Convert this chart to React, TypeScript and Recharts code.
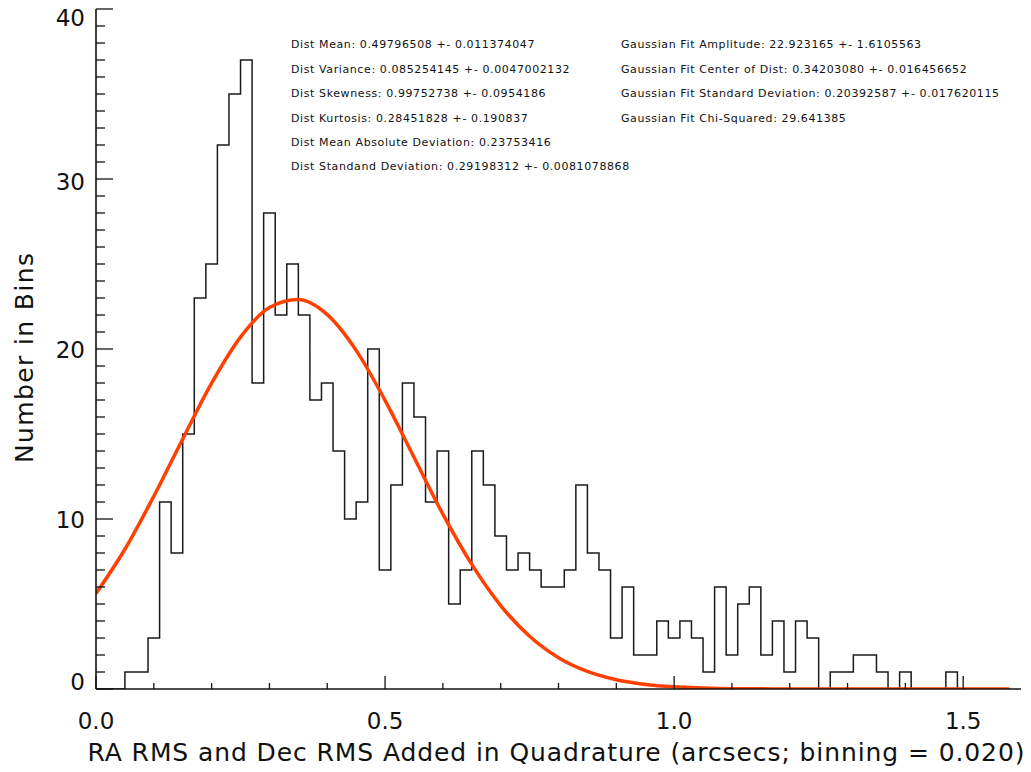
import React from 'react';
import { ComposedChart, Line, XAxis, YAxis } from 'recharts';

// histogram: counts per 0.02 bin, bin centres start at 0.00
const binWidth = 0.02;
const histCounts = [
  0, 0, 0, 1, 1, 3, 11, 8, 15, 23,
  25, 32, 35, 37, 18, 28, 22, 25, 22, 17,
  18, 14, 10, 11, 20, 7, 12, 18, 16, 11,
  14, 5, 7, 14, 12, 9, 7, 8, 7, 6,
  6, 7, 12, 8, 7, 3, 6, 2, 2, 4,
  3, 4, 3, 1, 6, 2, 5, 6, 2, 4,
  1, 4, 3, 0, 1, 1, 2, 2, 1, 0,
  1, 0, 0, 0, 1, 0, 0, 0, 0, 0,
];

// gaussian fit curve
const fitX = [0, 0.05, 0.1, 0.15, 0.2, 0.25, 0.3, 0.35, 0.4, 0.45, 0.5, 0.55, 0.6, 0.65, 0.7, 0.75, 0.8, 0.85, 0.9, 0.95, 1.0, 1.05, 1.1, 1.15, 1.2, 1.3, 1.4, 1.5, 1.58];
const fitY = [5.62, 8.22, 11.34, 14.71, 17.99, 20.7, 22.44, 22.91, 22.02, 19.92, 16.98, 13.63, 10.29, 7.33, 4.91, 3.1, 1.84, 1.03, 0.54, 0.27, 0.13, 0.06, 0.02, 0.01, 0, 0, 0, 0, 0];

const xTicks = [0, 0.1, 0.2, 0.3, 0.4, 0.5, 0.6, 0.7, 0.8, 0.9, 1.0, 1.1, 1.2, 1.3, 1.4, 1.5];
const xMajor = [0, 0.5, 1.0, 1.5];
const yTicks = Array.from({ length: 41 }, (_, i) => i);
const yMajor = [0, 10, 20, 30, 40];
// label baselines sit a little differently per tick in the original
const yLabelShift: Record<number, number> = { 0: 1, 10: 9, 20: 9, 30: 11, 40: 17 };

const statsLeft = [
  'Dist Mean: 0.49796508 +- 0.011374047',
  'Dist Variance: 0.085254145 +- 0.0047002132',
  'Dist Skewness: 0.99752738 +- 0.0954186',
  'Dist Kurtosis: 0.28451828 +- 0.190837',
  'Dist Mean Absolute Deviation: 0.23753416',
  'Dist Standand Deviation: 0.29198312 +- 0.0081078868',
];
const statsRight = [
  'Gaussian Fit Amplitude: 22.923165 +- 1.6105563',
  'Gaussian Fit Center of Dist: 0.34203080 +- 0.016456652',
  'Gaussian Fit Standard Deviation: 0.20392587 +- 0.017620115',
  'Gaussian Fit Chi-Squared: 29.641385',
];
const statRows = [48, 73, 97, 122, 146, 170];

const histData = histCounts.map((count, i) => ({ x: +(i * binWidth).toFixed(2), count }));
const fitData = fitX.map((x, i) => ({ x, fit: fitY[i] }));

const FONT = '"DejaVu Sans", sans-serif';
const INK = '#111';

function BottomTick({ x, y, payload }: any) {
  const major = xMajor.includes(payload.value);
  return (
    <g>
      <line x1={x} x2={x} y1={y} y2={y - (major ? 13 : 6)} stroke={INK} strokeWidth={1.3} />
      {major && (
        <text x={x} y={y + 40} textAnchor="middle" fontFamily={FONT} fontSize={23} fill={INK}>
          {payload.value.toFixed(1)}
        </text>
      )}
    </g>
  );
}

function TopTick({ x, y, payload }: any) {
  const major = xMajor.includes(payload.value);
  return <line x1={x} x2={x} y1={y} y2={y + (major ? 13 : 6)} stroke={INK} strokeWidth={1.3} />;
}

function LeftTick({ x, y, payload }: any) {
  const major = yMajor.includes(payload.value);
  return (
    <g>
      <line x1={x} x2={x + (major ? 17 : 9)} y1={y} y2={y} stroke={INK} strokeWidth={1.3} />
      {major && (
        <text x={x - 11} y={y + (yLabelShift[payload.value] ?? 9)} textAnchor="end" fontFamily={FONT} fontSize={23} fill={INK}>
          {payload.value}
        </text>
      )}
    </g>
  );
}

function RightTick({ x, y, payload }: any) {
  const major = yMajor.includes(payload.value);
  return <line x1={x} x2={x - (major ? 17 : 9)} y1={y} y2={y} stroke={INK} strokeWidth={1.3} />;
}

const frame = { stroke: INK, strokeWidth: 1.6 };

export default function App() {
  return (
    <div style={{ position: 'absolute', left: 0, top: 0, width: 1031, height: 772, background: '#fff' }}>
      <ComposedChart width={1031} height={772} margin={{ top: 9, right: 10, bottom: 0, left: 0 }}>
        <XAxis xAxisId="b" dataKey="x" type="number" domain={[0, 1.6]} allowDataOverflow ticks={xTicks} interval={0}
          tick={BottomTick} tickLine={false} tickSize={0} tickMargin={0} axisLine={frame} height={83} />
        <XAxis xAxisId="t" orientation="top" dataKey="x" type="number" domain={[0, 1.6]} allowDataOverflow ticks={xTicks} interval={0}
          tick={TopTick} tickLine={false} tickSize={0} tickMargin={0} axisLine={frame} height={0} />
        <YAxis yAxisId="l" type="number" domain={[0, 40]} allowDataOverflow ticks={yTicks} interval={0}
          tick={LeftTick} tickLine={false} tickSize={0} tickMargin={0} axisLine={frame} width={96} />
        <YAxis yAxisId="r" orientation="right" type="number" domain={[0, 40]} allowDataOverflow ticks={yTicks} interval={0}
          tick={RightTick} tickLine={false} tickSize={0} tickMargin={0} axisLine={frame} width={0} />
        <Line xAxisId="b" yAxisId="l" data={histData} dataKey="count" type="step" stroke="#1a1a1a" strokeWidth={1.5}
          dot={false} activeDot={false} isAnimationActive={false} />
        <Line xAxisId="b" yAxisId="l" data={fitData} dataKey="fit" type="monotone" stroke="#ff4000" strokeWidth={3.5}
          dot={false} activeDot={false} isAnimationActive={false} />
      </ComposedChart>
      <svg width={1031} height={772} style={{ position: 'absolute', left: 0, top: 0, pointerEvents: 'none' }}>
        {statsLeft.map((s, i) => (
          <text key={s} x={291} y={statRows[i]} fontFamily={FONT} fontSize={11} letterSpacing={0.6} fill={INK}>{s}</text>
        ))}
        {statsRight.map((s, i) => (
          <text key={s} x={621} y={statRows[i]} fontFamily={FONT} fontSize={11} letterSpacing={0.6} fill={INK}>{s}</text>
        ))}
        <text x={556} y={761} textAnchor="middle" fontFamily={FONT} fontSize={25} fill={INK}
          textLength={937} lengthAdjust="spacing">
          RA RMS and Dec RMS Added in Quadrature (arcsecs; binning = 0.020)
        </text>
        <text x={33} y={358} transform="rotate(-90 33 358)" textAnchor="middle" fontFamily={FONT} fontSize={25} fill={INK}
          textLength={210} lengthAdjust="spacing">
          Number in Bins
        </text>
      </svg>
    </div>
  );
}
